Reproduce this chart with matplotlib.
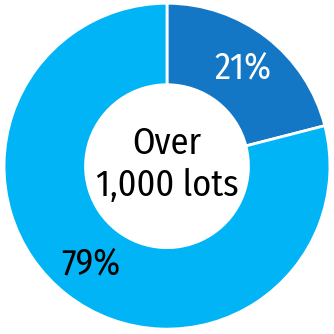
import matplotlib.pyplot as plt

labels = ['Over 1,000 lots', 'Other']
shares = [21, 79]
colors = ['#1477c6', '#00b4f5']
text_colors = ['white', 'black']

plt.rcParams['font.family'] = ['Fira Sans Condensed', 'DejaVu Sans']

fig = plt.figure(figsize=(3.34, 3.34), dpi=100)
ax = fig.add_axes([0, 0, 1, 1])

wedges, texts, autotexts = ax.pie(
    shares, colors=colors, startangle=90, counterclock=False,
    autopct='%d%%', pctdistance=0.76,
    wedgeprops=dict(width=0.5, edgecolor='white', linewidth=2),
    textprops=dict(fontsize=26))
for t, c in zip(autotexts, text_colors):
    t.set_color(c)

ax.text(0, 0.01, 'Over\n1,000 lots', ha='center', va='center',
        fontsize=26, linespacing=1.25)

ax.set_xlim(-1.025, 1.025)
ax.set_ylim(-1.03, 1.02)
ax.set_aspect('equal')
ax.axis('off')

fig.savefig('out.png', dpi=100)
